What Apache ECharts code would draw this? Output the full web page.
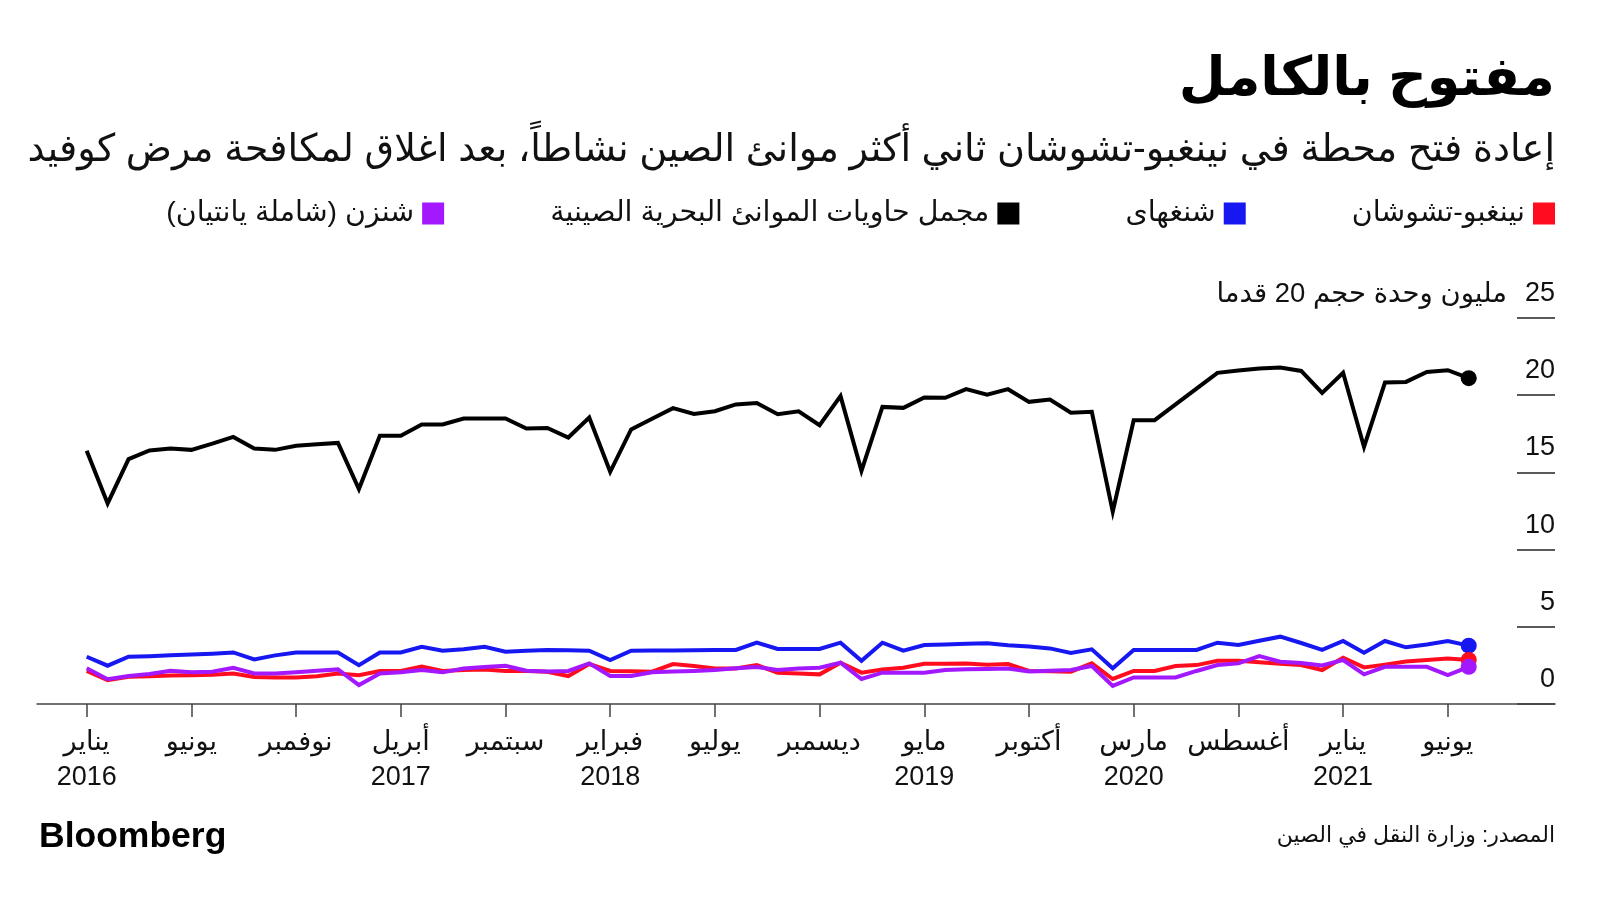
<!DOCTYPE html>
<html dir="rtl">
<head>
<meta charset="utf-8">
<script src="https://cdn.jsdelivr.net/npm/echarts@6/dist/echarts.min.js"></script>
<style>
  html, body { margin: 0; padding: 0; background: #fff; }
  #chart { width: 1600px; height: 900px; direction: rtl; }
</style>
</head>
<body>
<div id="chart"></div>
<script>
// monthly, Jan 2016 .. Jul 2021 (million TEU)
const months = []
for (let y = 2016; y <= 2021; y++) {
  for (let m = 1; m <= 12; m++) {
    if (y === 2021 && m > 7) break
    months.push(y + '-' + (m < 10 ? '0' + m : m))
  }
}

const chinaTotal = [
  16.40, 12.99, 15.86, 16.42, 16.55, 16.46, 16.86, 17.30, 16.55, 16.46, 16.72, 16.82,
  16.91, 13.92, 17.37, 17.37, 18.10, 18.10, 18.49, 18.49, 18.49, 17.84, 17.88, 17.26,
  18.55, 15.04, 17.78, 18.47, 19.16, 18.79, 18.96, 19.40, 19.50, 18.77, 18.96, 18.06,
  19.94, 15.10, 19.24, 19.18, 19.85, 19.83, 20.39, 20.04, 20.39, 19.57, 19.72, 18.86,
  18.92, 12.45, 18.38, 18.38, 19.40, 20.42, 21.45, 21.60, 21.73, 21.79, 21.57, 20.15,
  21.45, 16.65, 20.82, 20.86, 21.51, 21.62, 21.10
]
const shanghai = [
  3.06, 2.48, 3.06, 3.10, 3.15, 3.20, 3.26, 3.34, 2.89, 3.15, 3.34, 3.34,
  3.34, 2.52, 3.34, 3.34, 3.71, 3.45, 3.55, 3.71, 3.39, 3.45, 3.50, 3.48,
  3.45, 2.85, 3.45, 3.46, 3.47, 3.48, 3.49, 3.50, 3.97, 3.56, 3.56, 3.56,
  3.97, 2.80, 3.97, 3.45, 3.82, 3.85, 3.90, 3.93, 3.80, 3.72, 3.60, 3.30,
  3.54, 2.31, 3.50, 3.50, 3.50, 3.50, 3.97, 3.82, 4.10, 4.36, 3.95, 3.50,
  4.08, 3.32, 4.08, 3.67, 3.85, 4.08, 3.78
]
const ningbo = [
  2.14, 1.55, 1.77, 1.80, 1.85, 1.87, 1.90, 1.98, 1.75, 1.72, 1.72, 1.80,
  1.98, 1.87, 2.14, 2.14, 2.42, 2.14, 2.20, 2.24, 2.14, 2.14, 2.09, 1.81,
  2.59, 2.14, 2.12, 2.09, 2.59, 2.46, 2.30, 2.30, 2.52, 2.03, 1.98, 1.92,
  2.67, 2.03, 2.24, 2.35, 2.60, 2.60, 2.62, 2.55, 2.59, 2.14, 2.12, 2.09,
  2.63, 1.62, 2.14, 2.14, 2.46, 2.52, 2.80, 2.80, 2.70, 2.60, 2.52, 2.20,
  3.00, 2.37, 2.55, 2.75, 2.85, 2.95, 2.85
]
const shenzhen = [
  2.31, 1.60, 1.81, 1.95, 2.16, 2.05, 2.09, 2.35, 1.98, 1.98, 2.05, 2.15,
  2.24, 1.23, 1.98, 2.05, 2.20, 2.05, 2.30, 2.40, 2.48, 2.15, 2.10, 2.14,
  2.63, 1.81, 1.81, 2.05, 2.10, 2.14, 2.20, 2.31, 2.40, 2.20, 2.30, 2.35,
  2.67, 1.62, 2.03, 2.03, 2.03, 2.20, 2.25, 2.27, 2.30, 2.10, 2.15, 2.20,
  2.46, 1.17, 1.72, 1.72, 1.72, 2.14, 2.52, 2.63, 3.10, 2.74, 2.65, 2.50,
  2.85, 1.92, 2.41, 2.42, 2.41, 1.87, 2.41
]

// x tick labels, one every 5 months starting Jan 2016
const tickMonths = ['يناير', 'يونيو', 'نوفمبر', 'أبريل', 'سبتمبر', 'فبراير', 'يوليو',
  'ديسمبر', 'مايو', 'أكتوبر', 'مارس', 'أغسطس', 'يناير', 'يونيو']
const tickYears = ['2016', '', '', '2017', '', '2018', '', '', '2019', '', '2020', '', '2021', '']
const tickIdx = tickMonths.map((m, k) => k * 5)

const yTicks = [0, 5, 10, 15, 20, 25]

const FONT = "'Liberation Sans', 'DejaVu Sans', sans-serif"
const last = months.length - 1

function line(name, values, color, z) {
  return {
    name: name,
    type: 'line',
    data: values.map((v, i) => [i, v]),
    xAxisIndex: 0,
    yAxisIndex: 0,
    z: z,
    lineStyle: { color: color, width: 4, join: 'miter' },
    itemStyle: { color: color },
    symbol: 'circle',
    showSymbol: true,
    symbolSize: (v, p) => p.dataIndex === last ? 16 : 0,
    emphasis: { disabled: true },
    animation: false
  }
}

const chart = echarts.init(document.getElementById('chart'))
chart.setOption({
  backgroundColor: '#fff',
  textStyle: { fontFamily: FONT },
  animation: false,
  grid: [
    { left: 37, right: 45, top: 318, bottom: 196 },
    { left: 1517, right: 45, top: 318, bottom: 196 }   // short gridlines under y labels
  ],
  xAxis: [
    {
      type: 'value', gridIndex: 0,
      min: -2.373, max: 70.12,
      splitLine: { show: false },
      axisLine: { show: true, lineStyle: { color: '#444', width: 1.5 } },
      axisTick: { show: true, customValues: tickIdx, length: 13, lineStyle: { color: '#444', width: 1.5 } },
      axisLabel: {
        customValues: tickIdx,
        margin: 21,
        color: '#111',
        fontSize: 27,
        lineHeight: 35,
        fontFamily: FONT,
        formatter: v => {
          const k = Math.round(v / 5)
          return tickYears[k] ? tickMonths[k] + '\n' + tickYears[k] : tickMonths[k] + '\n '
        }
      }
    },
    { type: 'value', gridIndex: 1, show: false }
  ],
  yAxis: [
    { type: 'value', gridIndex: 0, min: 0, max: 25, show: false },
    {
      type: 'value', gridIndex: 1, position: 'right',
      min: 0, max: 25, interval: 5,
      axisLine: { show: false }, axisTick: { show: false },
      splitLine: { show: true, lineStyle: { color: '#222', width: 1.5 } },
      axisLabel: {
        inside: true, margin: 0, align: 'right',
        verticalAlign: 'bottom', padding: [0, 0, 11, 0],
        fontSize: 27, color: '#111', fontFamily: FONT,
        customValues: yTicks
      }
    }
  ],
  legend: {
    right: 45, top: 199, padding: 0,
    align: 'right',
    icon: 'rect', itemWidth: 22, itemHeight: 22,
    itemGap: 106,
    selectedMode: false,
    textStyle: { fontSize: 28.5, color: '#111', fontFamily: FONT, padding: [0, 3, 0, 0] },
    data: [
      { name: 'شنزن (شاملة يانتيان)', itemStyle: { color: '#a318ff' } },
      { name: 'مجمل حاويات الموانئ البحرية الصينية', itemStyle: { color: '#000' } },
      { name: 'شنغهاى', itemStyle: { color: '#1717f2' } },
      { name: 'نينغبو-تشوشان', itemStyle: { color: '#ff0d1f' } }
    ]
  },
  graphic: [
    { type: 'text', right: 45, top: 53, style: { text: 'مفتوح بالكامل', font: "bold 54px " + FONT, fill: '#000' } },
    { type: 'text', right: 45, top: 131, style: { text: 'إعادة فتح محطة في نينغبو-تشوشان ثاني أكثر موانئ الصين نشاطاً، بعد اغلاق لمكافحة مرض كوفيد', font: "38.2px " + FONT, fill: '#111' } },
    { type: 'text', right: 93, top: 280, style: { text: 'مليون وحدة حجم 20 قدما', font: "27.5px " + FONT, fill: '#111' } },
    { type: 'text', left: 39, top: 819, style: { text: 'Bloomberg', font: "bold 35.5px " + FONT, fill: '#000' } },
    { type: 'text', right: 45, top: 825, style: { text: 'المصدر: وزارة النقل في الصين', font: "22px " + FONT, fill: '#111' } }
  ],
  series: [
    line('مجمل حاويات الموانئ البحرية الصينية', chinaTotal, '#000', 2),
    line('شنغهاى', shanghai, '#1717f2', 3),
    line('نينغبو-تشوشان', ningbo, '#ff0d1f', 4),
    line('شنزن (شاملة يانتيان)', shenzhen, '#a318ff', 5)
  ]
})
</script>
</body>
</html>
